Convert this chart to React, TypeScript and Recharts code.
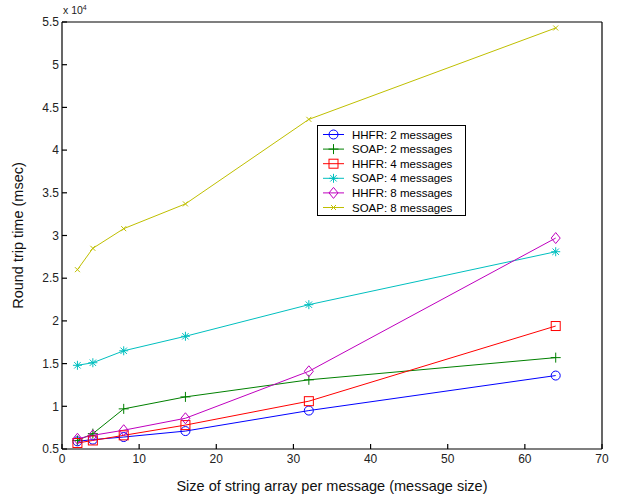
import { Label, Legend, Line, LineChart, XAxis, YAxis } from "recharts";

// message sizes (x) and round trip times in msec
const sizes = [2, 4, 8, 16, 32, 64];
const hhfr2 = [5900, 6100, 6400, 7100, 9500, 13600];
const soap2 = [6000, 6800, 9700, 11100, 13100, 15700];
const hhfr4 = [5700, 6000, 6600, 7800, 10600, 19400];
const soap4 = [14800, 15100, 16500, 18200, 21900, 28100];
const hhfr8 = [6200, 6600, 7200, 8600, 14100, 29700];
const soap8 = [26000, 28500, 30800, 33700, 43600, 54300];

const xTicks = [0, 10, 20, 30, 40, 50, 60, 70];
const yTicks = [5000, 10000, 15000, 20000, 25000, 30000, 35000, 40000, 45000, 50000, 55000];

const series = [
    { key: "hhfr2", name: "HHFR: 2 messages", values: hhfr2, color: "#0000ff", shape: "circle" },
    { key: "soap2", name: "SOAP: 2 messages", values: soap2, color: "#008000", shape: "plus" },
    { key: "hhfr4", name: "HHFR: 4 messages", values: hhfr4, color: "#ff0000", shape: "square" },
    { key: "soap4", name: "SOAP: 4 messages", values: soap4, color: "#00bfbf", shape: "star" },
    { key: "hhfr8", name: "HHFR: 8 messages", values: hhfr8, color: "#bf00bf", shape: "diamond" },
    { key: "soap8", name: "SOAP: 8 messages", values: soap8, color: "#bfbf00", shape: "cross" },
];

const data = sizes.map((s, i) => {
    const row: Record<string, number> = { size: s };
    series.forEach(sr => { row[sr.key] = sr.values[i] });
    return row;
});

const FONT = "'Liberation Sans', Arial, sans-serif";

function Marker({ shape, cx, cy, color }: { shape: string; cx: number; cy: number; color: string }) {
    const p = { stroke: color, strokeWidth: 1, fill: "none" };
    switch (shape) {
        case "circle":
            return <circle cx={cx} cy={cy} r={4.5} {...p} />;
        case "square":
            return <rect x={cx - 4.5} y={cy - 4.5} width={9} height={9} {...p} />;
        case "diamond":
            return <path d={`M${cx},${cy - 5.5}L${cx + 4.5},${cy}L${cx},${cy + 5.5}L${cx - 4.5},${cy}Z`} {...p} />;
        case "plus":
            return <path d={`M${cx - 5},${cy}H${cx + 5}M${cx},${cy - 5}V${cy + 5}`} {...p} />;
        case "star":
            return <path d={`M${cx - 4.5},${cy}H${cx + 4.5}M${cx},${cy - 4.5}V${cy + 4.5}M${cx - 3.2},${cy - 3.2}L${cx + 3.2},${cy + 3.2}M${cx - 3.2},${cy + 3.2}L${cx + 3.2},${cy - 3.2}`} {...p} />;
        default:
            return <path d={`M${cx - 2.5},${cy - 2.5}L${cx + 2.5},${cy + 2.5}M${cx - 2.5},${cy + 2.5}L${cx + 2.5},${cy - 2.5}`} {...p} />;
    }
}

const makeDot = (shape: string, color: string) => (props: any) => (
    <g key={`${shape}-${props.index}`}>
        <Marker shape={shape} cx={props.cx} cy={props.cy} color={color} />
    </g>
);

function LegendBox() {
    return (
        <div style={{ width: 147, height: 89, border: "1px solid #000", background: "#fff", fontFamily: FONT, fontSize: 11.5, color: "#222" }}>
            <svg width={147} height={89} style={{ display: "block" }}>
                {series.map((s, i) => {
                    const y = 8.5 + i * 14.6;
                    return (
                        <g key={s.key}>
                            <line x1={5} x2={26} y1={y} y2={y} stroke={s.color} />
                            <Marker shape={s.shape} cx={15.5} cy={y} color={s.color} />
                            <text x={34} y={y + 4}>{s.name}</text>
                        </g>
                    );
                })}
            </svg>
        </div>
    );
}

export default function App() {
    const tickStyle = { fontFamily: FONT, fontSize: 12, fill: "#222" };
    return (
        <div style={{ position: "absolute", left: 0, top: 0 }}>
            <LineChart width={623} height={498} data={data} margin={{ top: 21, right: 20, bottom: 0, left: 0 }}>
                <XAxis dataKey="size" type="number" domain={[0, 70]} ticks={xTicks} height={49}
                    stroke="#000" strokeWidth={1.2} tickSize={-5} tickMargin={10} tick={tickStyle}
                    tickLine={{ stroke: "#000" }}>
                    <Label position="insideBottom" offset={7} value="Size of string array per message (message size)"
                        style={{ fontFamily: FONT, fontSize: 14.5, fill: "#111" }} />
                </XAxis>
                <XAxis xAxisId="top" orientation="top" dataKey="size" type="number" domain={[0, 70]} ticks={xTicks}
                    height={1} stroke="#000" strokeWidth={1.2} tickSize={-5} tick={false} />
                <YAxis type="number" domain={[5000, 55000]} ticks={yTicks} width={62} stroke="#000" strokeWidth={1.2}
                    tickSize={-5} tickMargin={8} tick={tickStyle} tickFormatter={(v: number) => String(v / 10000)}>
                    <Label angle={-90} position="insideLeft" offset={18} value="Round trip time (msec)"
                        style={{ fontFamily: FONT, fontSize: 14.5, fill: "#111", textAnchor: "middle" }} />
                    <Label content={(p: any) => (
                        <text x={p.viewBox.x + p.viewBox.width + 1} y={p.viewBox.y - 8} style={{ fontFamily: FONT, fontSize: 10.5, fill: "#222" }}>
                            x 10<tspan dy={-4} fontSize={7}>4</tspan>
                        </text>
                    )} />
                </YAxis>
                <YAxis yAxisId="right" orientation="right" type="number" domain={[5000, 55000]} ticks={yTicks} width={1}
                    stroke="#000" strokeWidth={1.2} tickSize={-5} tick={false} />
                <Legend layout="vertical" align="center" verticalAlign="middle" content={() => <LegendBox />}
                    wrapperStyle={{ left: 317, top: 125, width: 149 }} />
                {series.map(s => (
                    <Line key={s.key} dataKey={s.key} name={s.name} stroke={s.color} strokeWidth={1}
                        dot={makeDot(s.shape, s.color)} activeDot={false} isAnimationActive={false} />
                ))}
            </LineChart>
        </div>
    );
}
